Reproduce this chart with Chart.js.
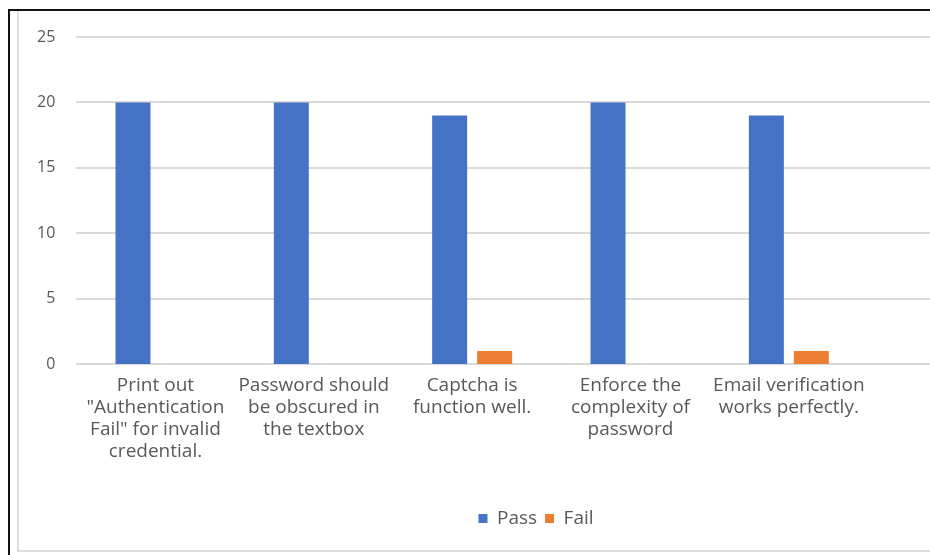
<!DOCTYPE html>
<html>
<head>
<meta charset="utf-8">
<script src="https://cdn.jsdelivr.net/npm/chart.js@4/dist/chart.umd.min.js"></script>
<style>
  html, body { margin: 0; padding: 0; background: #fff; overflow: hidden; }
  #wrap { position: relative; width: 930px; height: 555px; }
  #frameBlack { position: absolute; left: 8px; top: 9px; width: 930px; height: 560px; border-left: 2px solid #111; border-top: 2px solid #111; }
  #frameGray { position: absolute; left: 17px; top: 11px; width: 930px; height: 539px; border-left: 2px solid #dedede; border-bottom: 2px solid #dedede; }
  canvas { position: absolute; left: 0; top: 0; }
</style>
</head>
<body>
<div id="wrap">
  <div id="frameBlack"></div>
  <div id="frameGray"></div>
  <canvas id="c" width="930" height="555"></canvas>
</div>
<script>
const categories = [
  ["Print out", "\"Authentication", "Fail\" for invalid", "credential."],
  ["Password should", "be obscured in", "the textbox"],
  ["Captcha is", "function well."],
  ["Enforce the", "complexity of", "password"],
  ["Email verification", "works perfectly."]
];
const passValues = [20, 20, 19, 20, 19];
const failValues = [0, 0, 1, 0, 1];
const yTicks = { min: 0, max: 25, step: 5 };

const textColor = '#595959';
const fontFamily = "'Open Sans', 'Noto Sans', sans-serif";

const extendedGrid = {
  id: 'extendedGrid',
  beforeDatasetsDraw(chart) {
    const y = chart.scales.y;
    const ctx = chart.ctx;
    ctx.save();
    ctx.strokeStyle = '#d9d9d9';
    ctx.lineWidth = 2;
    y.ticks.forEach(t => {
      const py = Math.round(y.getPixelForValue(t.value));
      ctx.beginPath();
      ctx.moveTo(chart.chartArea.left, py);
      ctx.lineTo(chart.width, py);
      ctx.stroke();
    });
    ctx.restore();
  }
};

const legendShift = {
  id: 'legendShift',
  afterLayout(chart) {
    const l = chart.legend;
    if (!l) return;
    const target = 540;
    const pad = l.options.labels.padding || 0;
    const cur = (l.left + l.right + pad) / 2;
    const shift = target - cur;
    l.left += shift;
    l.right += shift;
  }
};

new Chart(document.getElementById('c'), {
  type: 'bar',
  data: {
    labels: categories,
    datasets: [
      { label: 'Pass', data: passValues, backgroundColor: '#4472C4', barPercentage: 0.778, categoryPercentage: 0.568 },
      { label: 'Fail', data: failValues, backgroundColor: '#ED7D31', barPercentage: 0.778, categoryPercentage: 0.568 }
    ]
  },
  options: {
    responsive: false,
    animation: false,
    layout: { padding: { left: 16, right: 62, top: 37, bottom: 17 } },
    scales: {
      x: {
        grid: { display: false, drawTicks: false },
        border: { display: false },
        ticks: {
          color: textColor,
          font: { family: fontFamily, size: 19, lineHeight: 1.158 },
          padding: 11,
          maxRotation: 0,
          autoSkip: false
        },
        afterFit: (s) => { s.height += 27; s.paddingLeft = 0; s.paddingRight = 0; }
      },
      y: {
        min: yTicks.min,
        max: yTicks.max,
        grid: { display: false, drawTicks: false },
        border: { display: false },
        ticks: {
          stepSize: yTicks.step,
          color: textColor,
          font: { family: fontFamily, size: 16 },
          padding: 21
        }
      }
    },
    plugins: {
      legend: {
        position: 'bottom',
        labels: {
          color: textColor,
          font: { family: fontFamily, size: 19 },
          boxWidth: 9,
          boxHeight: 9,
          padding: 8
        }
      },
      tooltip: { enabled: false }
    }
  },
  plugins: [extendedGrid, legendShift]
});
</script>
</body>
</html>
